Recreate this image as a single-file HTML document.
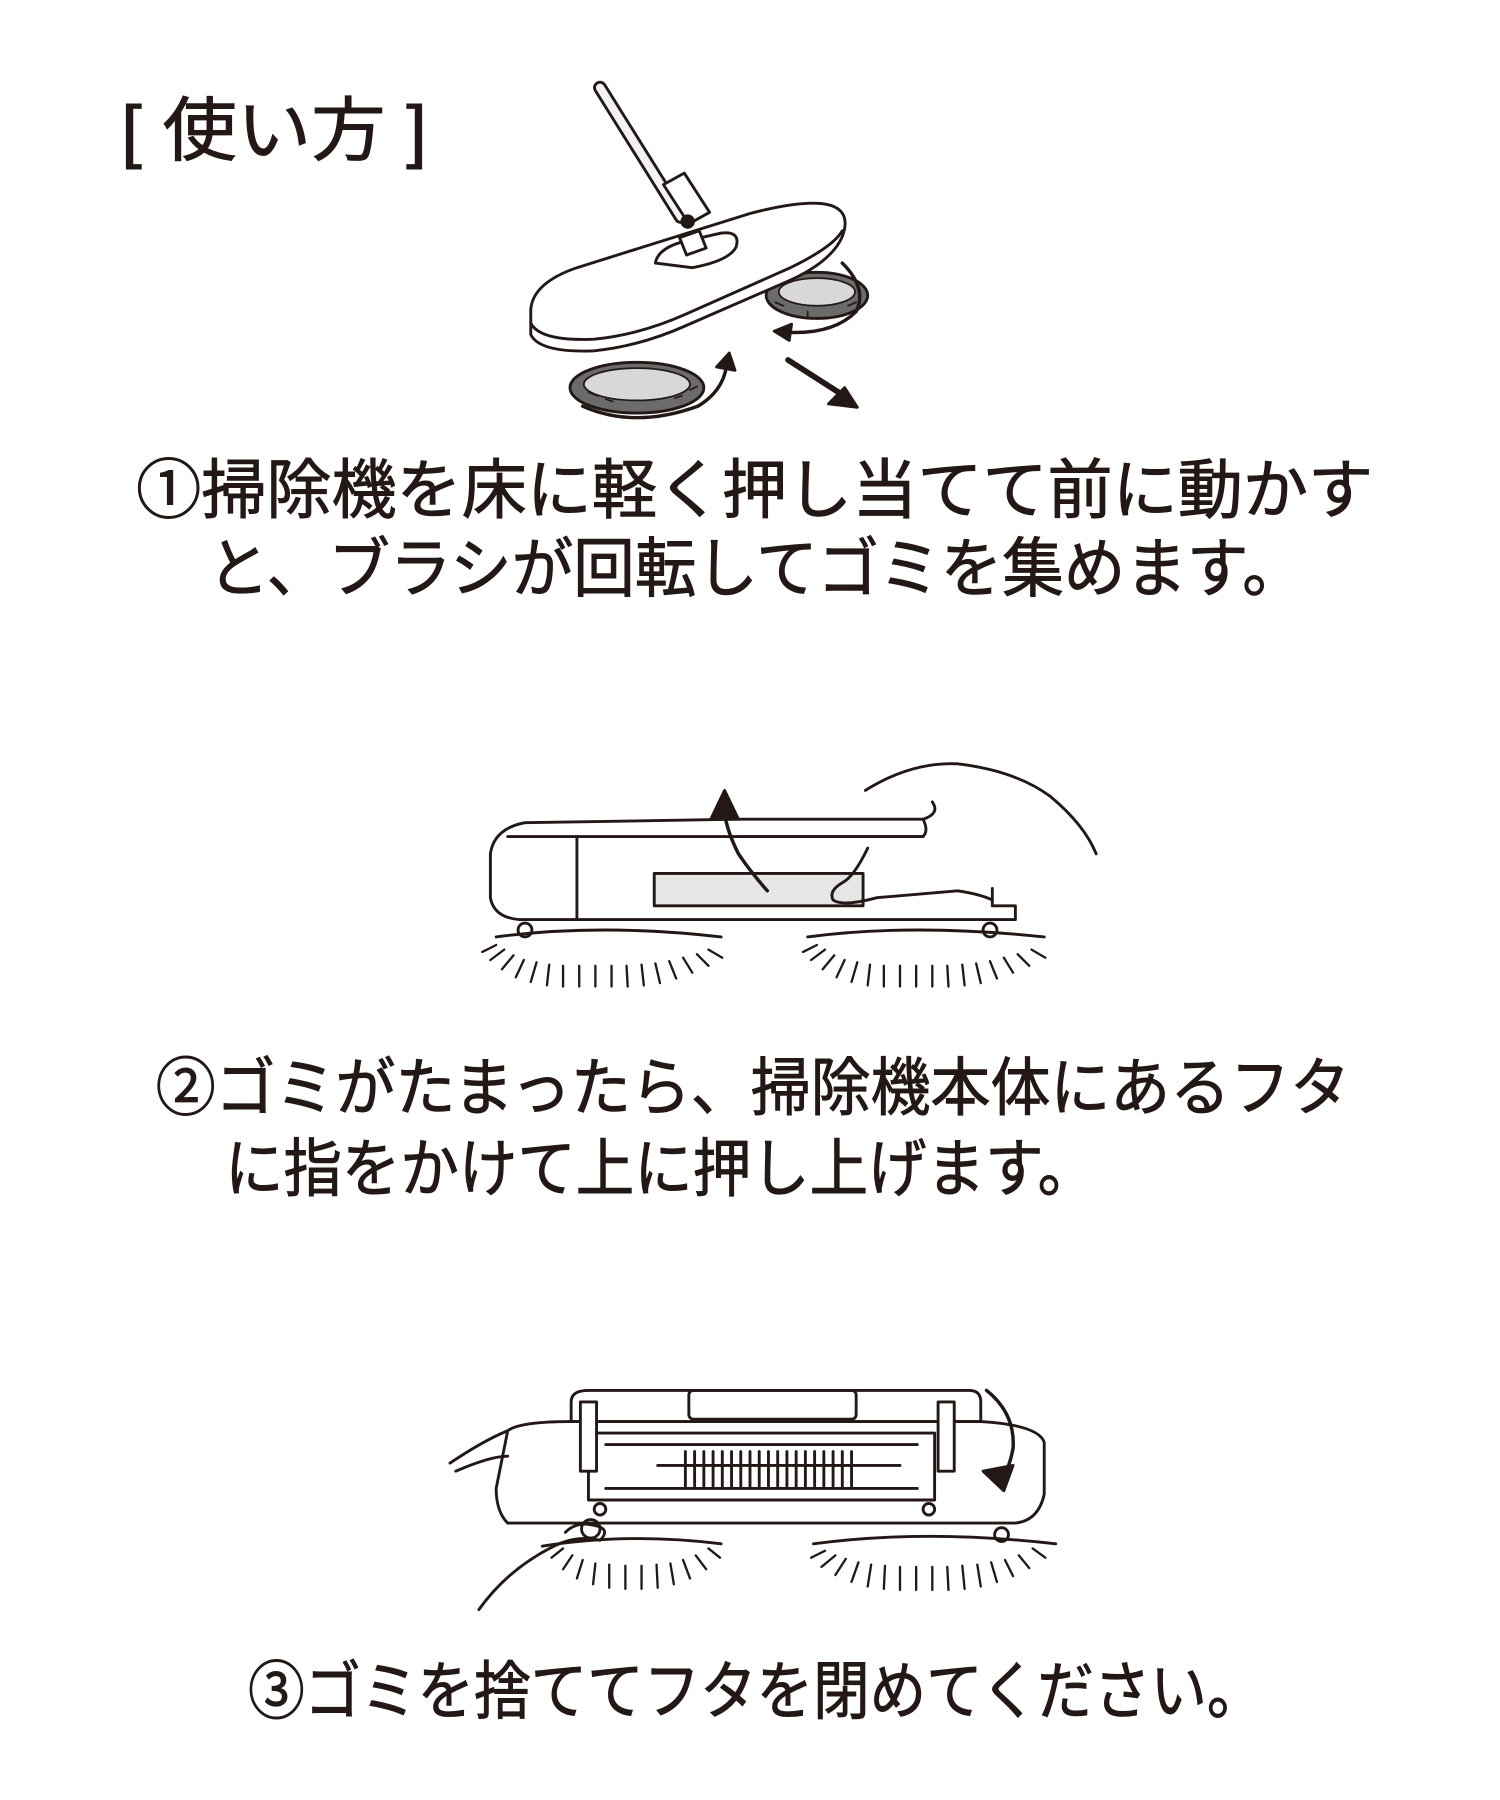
<!DOCTYPE html>
<html><head><meta charset="utf-8"><style>
html,body{margin:0;padding:0;background:#fff;width:1500px;height:1800px;overflow:hidden}
svg{display:block}
text{font-family:"Liberation Sans","Noto Sans CJK JP",sans-serif;fill:#231815;stroke:#231815;stroke-width:0.8}
</style></head><body>
<svg width="1500" height="1800" viewBox="0 0 1300 1560" xmlns="http://www.w3.org/2000/svg">
<g stroke="#231815" fill="none" stroke-width="2.5" stroke-linecap="round" stroke-linejoin="round">
<!-- Illustration 1 -->
<path d="M520 76 L590 188" stroke="#231815" stroke-width="12"/>
<path d="M520 76 L590 188" stroke="#f2f2f2" stroke-width="7"/>
<path d="M575 160 l18 -10 l22 34 l-18 10 z" fill="#fff"/>
<circle cx="596" cy="192" r="5" fill="#231815"/>
<ellipse cx="552" cy="336" rx="58" ry="22" fill="#6b6b6b"/>
<ellipse cx="552" cy="333" rx="46" ry="14" fill="#d8d8d8" stroke-width="1.5"/>
<ellipse cx="708" cy="256" rx="44" ry="20" fill="#6b6b6b"/>
<ellipse cx="708" cy="253" rx="33" ry="12" fill="#d8d8d8" stroke-width="1.5"/>
<g stroke="#231815" stroke-width="1.5"><path d="M510 340 l8 3 M525 346 l6 2 M585 345 l6 -2 M598 338 l6 -3 M672 262 l7 3 M742 262 l-7 3 M700 270 l0 4"/></g>
<path d="M460 268 Q462 245 500 232 L650 185 Q700 172 720 178 Q738 184 730 205 Q720 228 680 245 L595 282 Q555 300 515 304 Q468 306 460 290 Z" fill="#fff"/>
<path d="M460 280 Q468 296 515 294 Q555 290 595 272 L685 232 Q722 214 730 200"/>
<path d="M568 228 Q570 216 590 210 L625 202 Q642 200 638 214 Q632 226 600 232 Z" fill="#fff"/>
<path d="M589 206 l17 -6 l6 15 l-17 6 z" fill="#fff"/>
<path d="M505 352 Q550 372 605 352 Q628 338 630 314" stroke-width="3"/>
<path d="M621 318 l11 -12 l5 15 z" fill="#231815"/>
<path d="M730 228 Q752 250 742 270 Q722 290 682 288" stroke-width="3"/>
<path d="M686 281 l-15 6 l13 8 z" fill="#231815"/>
<path d="M683 312 L733 344" stroke-width="5"/>
<path d="M743 353 l-25 -3 l14 -14 z" fill="#231815"/>
<!-- Illustration 2 -->
<path d="M640 710 L800 710 Q805 720 800 725 L640 725"/>
<path d="M425 740 Q428 718 455 713 L640 710 M440 725 L800 725"/>
<path d="M425 740 L425 778 Q428 795 450 797 L880 797 L880 785 L860 785 L860 770"/>
<path d="M500 725 L500 797"/>
<rect x="567" y="757" width="181" height="28" fill="#e6e6e6"/>
<path d="M750 685 Q790 660 830 662 Q880 668 910 690 Q940 715 950 740"/>
<path d="M800 710 Q815 705 808 695"/>
<path d="M752 735 Q740 760 730 765 Q718 772 722 780 Q730 786 760 778 L830 772 Q850 775 860 780"/>
<path d="M665 772 Q650 755 640 740 Q630 720 628 705" stroke-width="3"/>
<path d="M616 710 l12 -25 l12 25 z" fill="#231815"/>
<circle cx="455" cy="806" r="6"/><circle cx="858" cy="806" r="6"/>
<path d="M430 812 Q520 800 625 812 M700 812 Q790 800 905 812"/>
<g stroke-width="2">
<path d="M418 825 l12 -6 M425 832 l12 -9 M435 840 l10 -12 M447 847 l7 -15 M460 851 l5 -17 M474 854 l2 -18 M488 855 l0 -18 M502 855 l0 -18 M516 855 l0 -18 M530 855 l0 -18 M544 855 l-1 -18 M558 854 l-2 -18 M572 852 l-4 -17 M586 848 l-6 -15 M600 843 l-8 -13 M614 837 l-10 -10 M626 830 l-12 -7"/>
<path d="M696 825 l12 -6 M703 832 l12 -9 M713 840 l10 -12 M725 847 l7 -15 M738 851 l5 -17 M752 854 l2 -18 M766 855 l0 -18 M780 855 l0 -18 M794 855 l0 -18 M808 855 l0 -18 M822 855 l-1 -18 M836 854 l-2 -18 M850 852 l-4 -17 M864 848 l-6 -15 M878 843 l-8 -13 M892 837 l-10 -10 M906 830 l-12 -7"/>
</g>
<!-- Illustration 3 -->
<path d="M495 1215 Q495 1205 510 1205 L840 1205 Q850 1205 850 1215 L850 1232 L495 1232 Z" fill="#fff"/>
<rect x="597" y="1205" width="145" height="25" rx="4"/>
<path d="M440 1240 Q450 1232 495 1232 L850 1232 Q900 1235 905 1250 L905 1295 Q900 1318 880 1320 L440 1320 Q430 1310 430 1290 Z" fill="#fff"/>
<rect x="510" y="1242" width="300" height="58"/>
<path d="M525 1252 L795 1252 M525 1290 L795 1290 M570 1270 L780 1270"/>
<g stroke-width="2.5"><path d="M594 1258 v30 M602 1258 v30 M610 1258 v30 M618 1258 v30 M626 1258 v30 M634 1258 v30 M642 1258 v30 M650 1258 v30 M658 1258 v30 M666 1258 v30 M674 1258 v30 M682 1258 v30 M690 1258 v30 M698 1258 v30 M706 1258 v30 M714 1258 v30 M722 1258 v30 M730 1258 v30 M738 1258 v30"/></g>
<rect x="503" y="1215" width="14" height="60" fill="#fff"/><rect x="813" y="1215" width="14" height="60" fill="#fff"/>
<circle cx="520" cy="1308" r="5"/><circle cx="805" cy="1308" r="5"/>
<path d="M390 1268 Q420 1248 440 1240 M395 1275 Q425 1262 440 1262"/>
<path d="M415 1395 Q440 1360 480 1340 Q500 1330 520 1335 Q530 1325 515 1322 Q500 1318 490 1328"/>
<path d="M855 1205 Q880 1225 878 1255 Q875 1272 868 1282" stroke-width="3"/>
<path d="M852 1275 l26 -5 l-8 22 z" fill="#231815"/>
<circle cx="512" cy="1325" r="8"/><circle cx="868" cy="1330" r="6"/>
<path d="M470 1340 Q545 1328 625 1338 M705 1338 Q800 1325 915 1338"/>
<g stroke-width="2">
<path d="M478 1350 l10 -8 M488 1360 l8 -12 M500 1368 l5 -16 M514 1373 l2 -18 M528 1376 l0 -20 M542 1377 l0 -20 M556 1377 l0 -20 M570 1376 l-1 -20 M584 1373 l-3 -18 M598 1368 l-6 -16 M612 1360 l-9 -12 M624 1350 l-10 -8"/>
<path d="M703 1350 l12 -6 M712 1358 l12 -10 M724 1365 l9 -14 M738 1371 l6 -17 M752 1375 l3 -19 M766 1377 l1 -20 M780 1378 l0 -20 M794 1378 l0 -20 M808 1378 l0 -20 M822 1378 l-1 -20 M836 1377 l-2 -20 M850 1375 l-3 -19 M864 1371 l-5 -17 M878 1366 l-7 -14 M892 1359 l-9 -11 M906 1350 l-11 -8"/>
</g>
</g>
<!-- Text -->
<text x="105" y="134" font-size="60" textLength="265" lengthAdjust="spacingAndGlyphs">[ 使い方 ]</text>
<text x="118" y="444" font-size="56" textLength="1072" lengthAdjust="spacingAndGlyphs">①掃除機を床に軽く押し当てて前に動かす</text>
<text x="180" y="512" font-size="56" textLength="950" lengthAdjust="spacingAndGlyphs">と、ブラシが回転してゴミを集めます。</text>
<text x="135" y="962" font-size="55" textLength="1035" lengthAdjust="spacingAndGlyphs">②ゴミがたまったら、掃除機本体にあるフタ</text>
<text x="195" y="1032" font-size="55" textLength="755" lengthAdjust="spacingAndGlyphs">に指をかけて上に押し上げます。</text>
<text x="215" y="1485" font-size="55" textLength="880" lengthAdjust="spacingAndGlyphs">③ゴミを捨ててフタを閉めてください。</text>
</svg>
</body></html>
